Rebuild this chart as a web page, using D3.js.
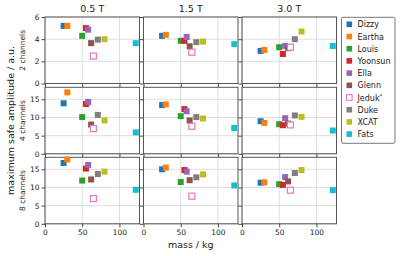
<!DOCTYPE html>
<html>
<head>
<meta charset="utf-8">
<script src="https://cdn.jsdelivr.net/npm/d3@7"></script>
<style>
  body { margin: 0; background: #fff; }
  svg text { font-family: "DejaVu Sans", sans-serif; fill: #222; }
  .tick line { stroke: #444; }
  .domain { display: none; }
</style>
</head>
<body>
<div class="chart-container"></div>
<script>
// phantom data
const names = ["Dizzy", "Eartha", "Louis", "Yoonsun", "Ella", "Glenn", "Jeduk", "Duke", "XCAT", "Fats"]
const colors = ["#1f77b4", "#ff7f0e", "#2ca02c", "#d62728", "#9467bd", "#8c564b", "#e377c2", "#7f7f7f", "#bcbd22", "#17becf"]
const mass = [25, 30, 50, 55, 58, 62, 65, 71, 80, 122]

const fields = ["0.5 T", "1.5 T", "3.0 T"]
const channels = ["2 channels", "4 channels", "8 channels"]

// max safe amplitude, one array per field strength / channel count
const amp_05_2ch = [5.2, 5.2, 4.3, 5.0, 4.85, 3.64, 2.48, 3.96, 4.0, 3.64]
const amp_15_2ch = [4.3, 4.39, 3.85, 3.85, 4.2, 3.36, 2.82, 3.73, 3.78, 3.55]
const amp_30_2ch = [2.94, 3.03, 3.27, 2.66, 3.39, 3.18, 3.27, 4.0, 4.69, 3.39]

const amp_05_4ch = [13.9, 16.9, 10.1, 13.7, 14.25, 8.05, 6.94, 10.7, 9.17, 5.9]
const amp_15_4ch = [13.4, 13.6, 10.36, 12.3, 11.7, 9.17, 7.58, 10.1, 9.7, 7.1]
const amp_30_4ch = [8.97, 8.5, 8.14, 7.86, 9.8, 8.3, 7.95, 10.55, 10.17, 6.4]

const amp_05_8ch = [16.75, 17.7, 11.9, 15.2, 16.2, 12.2, 6.94, 13.7, 14.35, 9.35]
const amp_15_8ch = [15.0, 15.46, 11.5, 14.8, 14.35, 12.0, 7.6, 12.8, 13.6, 10.55]
const amp_30_8ch = [11.3, 11.4, 10.9, 10.7, 12.86, 11.66, 9.25, 13.97, 14.8, 9.25]

const yTicks2 = [0, 2, 4, 6]
const yTicks48 = [0, 5, 10, 15]
const xTicks = [0, 50, 100]

const grid = [
    [amp_05_2ch, amp_15_2ch, amp_30_2ch],
    [amp_05_4ch, amp_15_4ch, amp_30_4ch],
    [amp_05_8ch, amp_15_8ch, amp_30_8ch]
]

let dims = {
    width: 400,
    height: 256,
    panelLefts: [45, 143.5, 242],
    panelTops: [17, 87.3, 157.3],
    panelWidth: 94.5,
    panelHeight: 66.5
}

const svg = d3.select(".chart-container")
    .append('svg')
    .attr('width', dims.width)
    .attr('height', dims.height)

const xScale = d3.scaleLinear()
    .domain([0, 127])
    .range([0, dims.panelWidth])

const yScales = [
    d3.scaleLinear().domain([0, 6]).range([dims.panelHeight, 0]),
    d3.scaleLinear().domain([0, 18.3]).range([dims.panelHeight, 0]),
    d3.scaleLinear().domain([0, 18.3]).range([dims.panelHeight, 0])
]
const yTickSets = [yTicks2, yTicks48, yTicks48]

function drawPanel(row, col) {
    const yScale = yScales[row]
    const g = svg.append('g')
        .attr('transform', `translate(${dims.panelLefts[col]},${dims.panelTops[row]})`)

    // grid
    g.selectAll('.gx')
        .data(xTicks)
        .join('line')
        .attr('x1', d => xScale(d)).attr('x2', d => xScale(d))
        .attr('y1', 0).attr('y2', dims.panelHeight)
        .attr('stroke', '#d6d6d6').attr('stroke-width', 0.8)
    g.selectAll('.gy')
        .data(yTickSets[row])
        .join('line')
        .attr('y1', d => yScale(d)).attr('y2', d => yScale(d))
        .attr('x1', 0).attr('x2', dims.panelWidth)
        .attr('stroke', '#d6d6d6').attr('stroke-width', 0.8)

    // axes
    const xAxis = d3.axisBottom(xScale).tickValues(xTicks).tickSize(3.5).tickPadding(2)
        .tickFormat(row < 2 ? '' : d3.format('d'))
    g.append('g')
        .attr('transform', `translate(0,${dims.panelHeight})`)
        .call(xAxis)
        .selectAll('text')
        .attr('font-size', '7.5px')

    const yAxis = d3.axisLeft(yScale).tickValues(yTickSets[row]).tickSize(3.5).tickPadding(2)
        .tickFormat(col > 0 ? '' : d3.format('d'))
    g.append('g')
        .call(yAxis)
        .selectAll('text')
        .attr('font-size', '7.5px')

    // frame
    g.append('rect')
        .attr('width', dims.panelWidth)
        .attr('height', dims.panelHeight)
        .attr('fill', 'none')
        .attr('stroke', '#555')
        .attr('stroke-width', 1)

    // points
    const vals = grid[row][col]
    const pts = names.map((n, i) => ({ name: n, mass: mass[i], amp: vals[i], color: colors[i] }))
    g.selectAll('.pt')
        .data(pts)
        .join('rect')
        .attr('x', d => xScale(d.mass) - 3)
        .attr('y', d => yScale(d.amp) - 3)
        .attr('width', 6)
        .attr('height', 6)
        .attr('fill', d => d.name === 'Jeduk' ? '#fff' : d.color)
        .attr('stroke', d => d.name === 'Jeduk' ? d.color : 'none')
        .attr('stroke-width', 1.2)

    // titles / row labels
    if (row === 0) {
        g.append('text')
            .attr('x', dims.panelWidth / 2)
            .attr('y', -5)
            .attr('text-anchor', 'middle')
            .attr('font-size', '9.5px')
            .text(fields[col])
    }
    if (col === 0) {
        g.append('text')
            .attr('transform', `translate(-20,${dims.panelHeight / 2}) rotate(-90)`)
            .attr('text-anchor', 'middle')
            .attr('font-size', '7.5px')
            .text(channels[row])
    }
}

for (let r = 0; r < 3; r++) {
    for (let c = 0; c < 3; c++) {
        drawPanel(r, c)
    }
}

// x label
svg.append('text')
    .attr('x', dims.panelLefts[1] + dims.panelWidth / 2)
    .attr('y', 248)
    .attr('text-anchor', 'middle')
    .attr('font-size', '9.5px')
    .text('mass / kg')

// y label
const midY = (dims.panelTops[0] + dims.panelTops[2] + dims.panelHeight) / 2
svg.append('text')
    .attr('transform', `translate(13.5,${midY}) rotate(-90)`)
    .attr('text-anchor', 'middle')
    .attr('font-size', '9.5px')
    .text('maximum safe amplitude / a.u.')

// legend
const legend = svg.append('g')
    .attr('transform', 'translate(341.5,17.3)')

legend.append('rect')
    .attr('width', 53.5)
    .attr('height', 126)
    .attr('rx', 1.5)
    .attr('fill', '#fff')
    .attr('stroke', '#777')
    .attr('stroke-width', 1)

const items = legend.selectAll('.item')
    .data(names)
    .join('g')
    .attr('transform', (d, i) => `translate(0,${7 + i * 12.2})`)

items.append('rect')
    .attr('x', 5)
    .attr('y', -2.8)
    .attr('width', 5.6)
    .attr('height', 5.6)
    .attr('fill', (d, i) => d === 'Jeduk' ? '#fff' : colors[i])
    .attr('stroke', (d, i) => d === 'Jeduk' ? colors[i] : 'none')
    .attr('stroke-width', 1.1)

const labels = items.append('text')
    .attr('x', 16)
    .attr('y', 3)
    .attr('font-size', '8px')
    .text(d => d)

labels.filter(d => d === 'Jeduk')
    .append('tspan')
    .attr('dy', -3)
    .attr('font-size', '5.5px')
    .text('*')
</script>
</body>
</html>
